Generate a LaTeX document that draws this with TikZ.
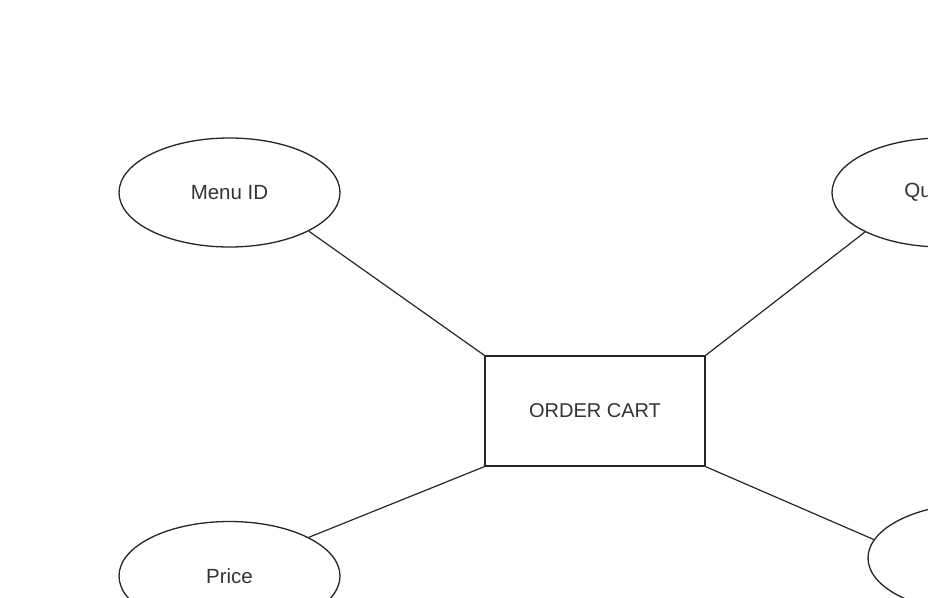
\documentclass[tikz,border=0pt]{standalone}
\usepackage{fontspec}
\setmainfont{Liberation Sans}
\usetikzlibrary{shapes.geometric}
\begin{document}
\begin{tikzpicture}[x=1pt,y=-1pt,
  attr/.style={ellipse, draw=black!85, line width=1.3pt, minimum width=221pt, minimum height=109pt, inner sep=0pt, font=\fontsize{20.5}{24}\selectfont, text=black!80},
  ent/.style={rectangle, draw=black!85, line width=1.3pt, minimum width=220pt, minimum height=110pt, inner sep=0pt, font=\fontsize{20}{24}\selectfont, text=black!80},
  link/.style={draw=black!85, line width=1.2pt}]
\useasboundingbox (0,0) rectangle (928,597);
\clip (0,0) rectangle (928,597);
\fill[white] (0,0) rectangle (928,597);
\node[ent] (cart) at (595,411) {ORDER CART};
\node[attr] (menu) at (229.5,192.5) {Menu ID};
\node[attr] (qty) at (942.5,192.5) {Quantity};
\node[attr] (price) at (229.5,576) {Price};
\node[attr] (other) at (978.5,558) {};
\draw[link] (menu.-26) -- (cart.north west);
\draw[link] (qty.207.5) -- (cart.north east);
\draw[link] (price.26.6) -- (cart.south west);
\draw[link] (other.170) -- (cart.south east);
\end{tikzpicture}
\end{document}
